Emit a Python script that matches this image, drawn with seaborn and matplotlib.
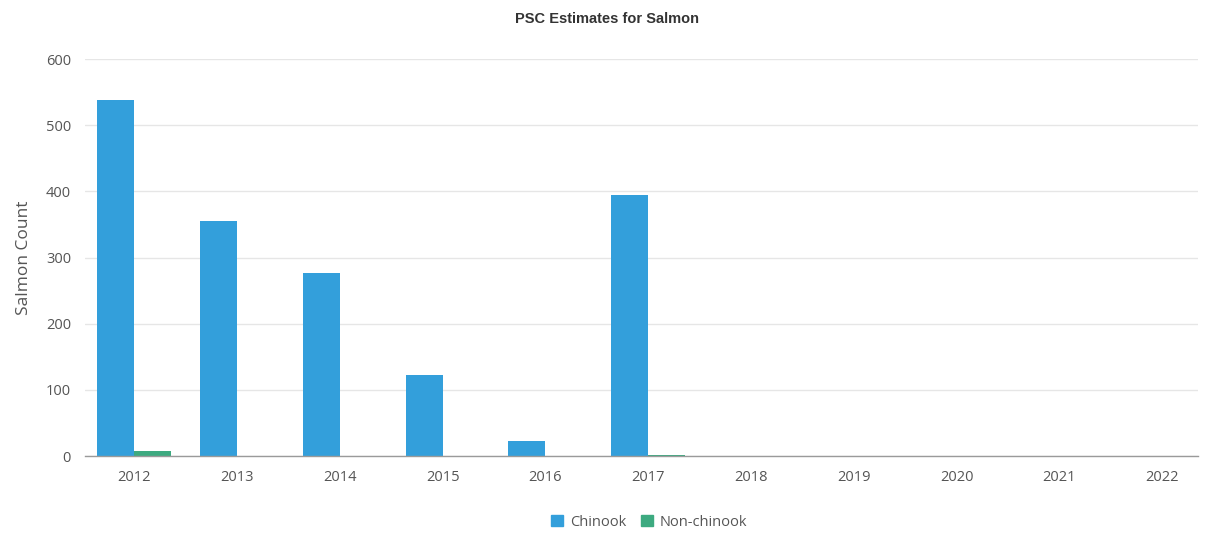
import matplotlib
matplotlib.use("Agg")
import matplotlib.pyplot as plt
import seaborn as sns
import pandas as pd

years = ["2012", "2013", "2014", "2015", "2016", "2017", "2018", "2019", "2020", "2021", "2022"]
chinook = [538, 355, 277, 122, 23, 394, 0, 0, 0, 0, 0]
non_chinook = [8, 0, 0, 0, 0, 2, 0, 0, 0, 0, 0]
series_names = ["Chinook", "Non-chinook"]
colors = ["#339FDB", "#3DAA80"]

df = pd.DataFrame({
    "Year": years * 2,
    "Count": chinook + non_chinook,
    "Series": [series_names[0]] * len(years) + [series_names[1]] * len(years),
})

sns.set_theme(style="white")
plt.rcParams["font.family"] = ["Open Sans", "DejaVu Sans"]

fig = plt.figure(figsize=(12.14, 5.34), dpi=100)
ax = fig.add_axes([0.070, 0.146, 0.917, 0.7435])

sns.barplot(data=df, x="Year", y="Count", hue="Series", palette=colors,
            width=0.72, gap=0, ax=ax, legend=True, saturation=1, linewidth=0)

ax.set_ylim(0, 600)
ax.set_yticks([0, 100, 200, 300, 400, 500, 600])
ax.set_xlim(-0.48, 10.35)
ax.yaxis.grid(True, color="#E6E6E6", linewidth=1)
ax.set_axisbelow(True)
for s in ["top", "right", "left"]:
    ax.spines[s].set_visible(False)
ax.spines["bottom"].set_color("#9a9a9a")
ax.spines["bottom"].set_linewidth(1)
ax.tick_params(axis="both", colors="#555555", labelsize=10.5, length=0)
ax.tick_params(axis="x", pad=10)
ax.tick_params(axis="y", pad=10)
ax.set_xlabel("")
ax.set_ylabel("Salmon Count", fontsize=12.5, color="#555555")
ax.yaxis.set_label_coords(-0.048, 0.5)

fig.suptitle("PSC Estimates for Salmon", x=0.5, y=0.978, fontsize=10.5,
             fontweight="bold", color="#333333", family=["Liberation Sans", "DejaVu Sans"])

ax.legend_.remove()
handles = [plt.Rectangle((0, 0), 1, 1, color=c) for c in colors]
fig.legend(handles, series_names, loc="center", bbox_to_anchor=(0.535, 0.022),
           ncol=2, frameon=False, fontsize=10.5, handlelength=0.8, handleheight=0.8,
           handletextpad=0.5, columnspacing=1.0, labelcolor="#555555")

fig.savefig("out.png", dpi=100)
